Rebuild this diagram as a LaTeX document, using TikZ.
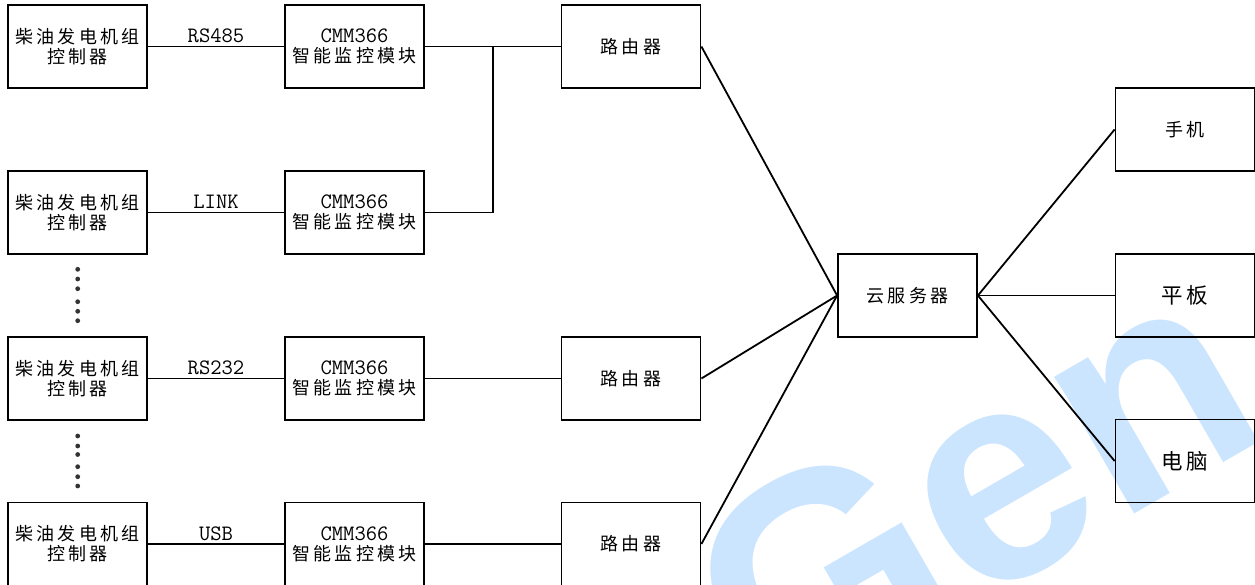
\documentclass[tikz,border=0pt]{standalone}
\usepackage{fontspec}
\newfontfamily\cjk[LetterSpace=17]{Noto Sans CJK SC}
\newfontfamily\wmfont{Liberation Sans}
\definecolor{wmblue}{RGB}{204,229,255}
\newcommand\latinlab{\ttfamily\fontsize{22}{20}\selectfont}
\tikzset{
  box/.style={draw, line width=1.8pt, minimum width=139pt, minimum height=83pt,
    inner sep=0pt, align=center, font=\cjk\fontsize{18}{20}\selectfont},
  bigbox/.style={box, font=\cjk\fontsize{21.5}{24}\selectfont},
  conn/.style={line width=1.8pt},
  lab/.style={font=\latinlab, inner sep=0pt, anchor=base},
  dotmark/.style={circle, fill=black!80, inner sep=0pt, minimum size=4.8pt}
}
\begin{document}
\begin{tikzpicture}[x=1pt,y=-1pt]
\useasboundingbox (0,0) rectangle (1255,584);
\clip (0,0) rectangle (1255,584);
% watermark
\node[rotate=30, anchor=base west, inner sep=0pt, text=wmblue,
  font=\wmfont\bfseries\fontsize{300}{300}\selectfont] (wm) at (770,725) {Gen};
% controllers
\node[box] (c1) at (77.5,46.5) {柴油发电机组\\控制器};
\node[box] (c2) at (77.5,212.5) {柴油发电机组\\控制器};
\node[box] (c3) at (77.5,378.5) {柴油发电机组\\控制器};
\node[box] (c4) at (77.5,544) {柴油发电机组\\控制器};
% modules
\node[box] (m1) at (354.5,46.5) {{\latinlab CMM366}\\智能监控模块};
\node[box] (m2) at (354.5,212.5) {{\latinlab CMM366}\\智能监控模块};
\node[box] (m3) at (354.5,378.5) {{\latinlab CMM366}\\智能监控模块};
\node[box] (m4) at (354.5,544) {{\latinlab CMM366}\\智能监控模块};
% routers
\node[box] (r1) at (631,46.5) {路由器};
\node[box] (r2) at (631,378.5) {路由器};
\node[box] (r3) at (631,544) {路由器};
% cloud
\node[box] (cloud) at (907.5,295.5) {云服务器};
% terminals
\node[box] (phone) at (1185,129.5) {手机};
\node[bigbox] (pad) at (1185,295.5) {平板};
\node[bigbox] (pc) at (1185,461) {电脑};
% dots
\foreach \i/\yy in {1/269.3,2/279,3/288.7,4/301.7,5/311.3,6/320.7}
  \node[dotmark] (da\i) at (77.7,\yy) {};
\foreach \i/\yy in {1/436,2/446,3/454.5,4/466.7,5/476.7,6/486}
  \node[dotmark] (db\i) at (77.7,\yy) {};
% connectors
\draw[conn] (c1.east) -- node[lab, yshift=4pt] (l1) {RS485} (m1.west);
\draw[conn] (c2.east) -- node[lab, yshift=4pt] (l2) {LINK} (m2.west);
\draw[conn] (c3.east) -- node[lab, yshift=4pt] (l3) {RS232} (m3.west);
\draw[conn] (c4.east) -- node[lab, yshift=4pt] (l4) {USB} (m4.west);
\coordinate (j) at (493,46.5);
\draw[conn] (m1.east) -- (r1.west);
\draw[conn] (m2.east) -| (j);
\draw[conn] (m3.east) -- (r2.west);
\draw[conn] (m4.east) -- (r3.west);
\draw[conn] (r1.east) -- (cloud.west);
\draw[conn] (r2.east) -- (cloud.west);
\draw[conn] (r3.east) -- (cloud.west);
\draw[conn] (cloud.east) -- (phone.west);
\draw[conn] (cloud.east) -- (pad.west);
\draw[conn] (cloud.east) -- (pc.west);
\end{tikzpicture}
\end{document}
